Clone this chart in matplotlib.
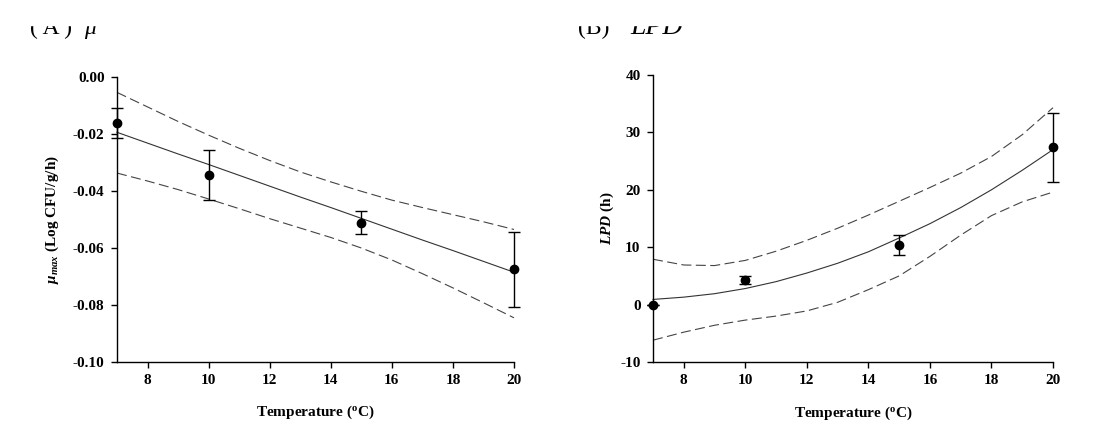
import matplotlib
matplotlib.use("Agg")
import matplotlib.pyplot as plt
from matplotlib.patches import Rectangle
from matplotlib.ticker import FormatStrFormatter

plt.rcParams['font.family'] = ['Liberation Serif', 'DejaVu Serif']
plt.rcParams['font.weight'] = 'bold'
plt.rcParams['mathtext.fontset'] = 'custom'
plt.rcParams['mathtext.rm'] = 'Liberation Serif:bold'
plt.rcParams['mathtext.it'] = 'Liberation Serif:italic:bold'
plt.rcParams['mathtext.bf'] = 'Liberation Serif:bold'
plt.rcParams['axes.unicode_minus'] = False

# observed means and error bars
temps = [7, 10, 15, 20]
mu_obs = [-0.0161, -0.0345, -0.0511, -0.0675]
mu_err = [0.0052, 0.0088, 0.0040, 0.0131]
lpd_obs = [0.0, 4.3, 10.4, 27.4]
lpd_err = [0.0, 0.75, 1.8, 6.0]

# fitted curves and 95% bands
fit_t = [7, 8, 9, 10, 11, 12, 13, 14, 15, 16, 17, 18, 19, 20]
mu_fit = [-0.0194, -0.0232, -0.0270, -0.0307, -0.0345, -0.0383, -0.0421,
          -0.0458, -0.0496, -0.0534, -0.0572, -0.0609, -0.0647, -0.0685]
mu_up = [-0.0054, -0.0105, -0.0156, -0.0204, -0.0250, -0.0293, -0.0333,
         -0.0368, -0.0401, -0.0432, -0.0458, -0.0483, -0.0508, -0.0535]
mu_lo = [-0.0337, -0.0365, -0.0395, -0.0428, -0.0462, -0.0497, -0.0530,
         -0.0563, -0.0600, -0.0642, -0.0690, -0.0740, -0.0792, -0.0845]
lpd_fit = [0.9, 1.3, 1.9, 2.8, 4.0, 5.5, 7.2, 9.2, 11.6, 14.1, 16.9, 20.0,
           23.4, 27.0]
lpd_up = [7.9, 6.9, 6.8, 7.7, 9.3, 11.2, 13.3, 15.6, 18.0, 20.4, 22.9, 25.8,
          29.6, 34.3]
lpd_lo = [-6.2, -4.8, -3.6, -2.7, -2.0, -1.1, 0.4, 2.6, 5.0, 8.4, 12.1, 15.5,
          17.9, 19.6]

W, H = 1114, 442
fig = plt.figure(figsize=(W / 100, H / 100), dpi=100)
ax1 = fig.add_axes([117 / W, 80 / H, 397 / W, 285 / H])
ax2 = fig.add_axes([653 / W, 80 / H, 400 / W, 287 / H])


def style(ax):
    for s in ('top', 'right'):
        ax.spines[s].set_visible(False)
    for s in ('left', 'bottom'):
        ax.spines[s].set_linewidth(1.0)
    ax.tick_params(direction='out', length=4, width=1.0, labelsize=11, pad=5)
    ax.set_xlim(7, 20)
    ax.set_xticks([8, 10, 12, 14, 16, 18, 20])
    ax.set_xlabel('Temperature ($^{\\mathrm{o}}$C)', fontsize=11,
                  fontweight='bold', va='center')
    ax.xaxis.set_label_coords(0.5, -0.178)


def draw(ax, obs, err, fit, up, lo):
    ax.plot(fit_t, fit, color='#333333', lw=0.8, clip_on=False)
    ax.plot(fit_t, up, color='#444444', lw=0.8, ls=(0, (9, 4)), clip_on=False)
    ax.plot(fit_t, lo, color='#444444', lw=0.8, ls=(0, (9, 4)), clip_on=False)
    ax.errorbar(temps, obs, yerr=err, fmt='o', color='black', ms=6,
                ecolor='black', elinewidth=1.0, capsize=4, capthick=1.0,
                clip_on=False, zorder=5)


style(ax1)
draw(ax1, mu_obs, mu_err, mu_fit, mu_up, mu_lo)
ax1.set_ylim(-0.10, 0.0)
ax1.set_yticks([-0.10, -0.08, -0.06, -0.04, -0.02, 0.00])
ax1.yaxis.set_major_formatter(FormatStrFormatter('%.2f'))
ax1.set_ylabel('$\\mu_{max}$ (Log CFU/g/h)', fontsize=11, fontweight='bold',
               va='center')
ax1.yaxis.set_label_coords(-0.164, 0.5)

style(ax2)
draw(ax2, lpd_obs, lpd_err, lpd_fit, lpd_up, lpd_lo)
ax2.set_ylim(-10, 40)
ax2.set_yticks([-10, 0, 10, 20, 30, 40])
ax2.set_ylabel('$LPD$ (h)', fontsize=11, fontweight='bold', va='center')
ax2.yaxis.set_label_coords(-0.115, 0.5)

# panel titles, top part cut off as in the original
base = (H - 34) / H
fig.text(30 / W, base, '( A )', fontsize=17, fontweight='normal',
         va='baseline')
fig.text(84 / W, base, '\u03bc', fontsize=17, style='italic',
         fontweight='normal', va='baseline')
fig.text(578 / W, base, '(B)', fontsize=17, fontweight='normal',
         va='baseline')
fig.text(630 / W, base, 'LPD', fontsize=20, style='italic',
         fontweight='normal', va='baseline')
fig.patches.append(Rectangle((0, (H - 25) / H), 1, 25 / H, color='white',
                             transform=fig.transFigure, zorder=10))

fig.savefig('out.png', dpi=100)
